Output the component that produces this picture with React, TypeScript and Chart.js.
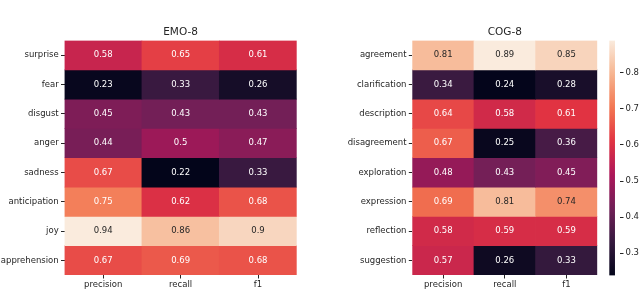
import React, { useEffect, useRef } from 'react';
import { Chart, registerables } from 'chart.js';

Chart.register(...registerables);

// ---------------- data ----------------
const METRICS = ['precision', 'recall', 'f1'];

const EMO_TITLE = 'EMO-8';
const EMO_ROWS = ['surprise', 'fear', 'disgust', 'anger', 'sadness', 'anticipation', 'joy', 'apprehension'];
const EMO_PRECISION = [0.58, 0.23, 0.45, 0.44, 0.67, 0.75, 0.94, 0.67];
const EMO_RECALL = [0.65, 0.33, 0.43, 0.5, 0.22, 0.62, 0.86, 0.69];
const EMO_F1 = [0.61, 0.26, 0.43, 0.47, 0.33, 0.68, 0.9, 0.68];
const EMO_RANGE = [0.22, 0.94];

const COG_TITLE = 'COG-8';
const COG_ROWS = ['agreement', 'clarification', 'description', 'disagreement', 'exploration', 'expression', 'reflection', 'suggestion'];
const COG_PRECISION = [0.81, 0.34, 0.64, 0.67, 0.48, 0.69, 0.58, 0.57];
const COG_RECALL = [0.89, 0.24, 0.58, 0.25, 0.43, 0.81, 0.59, 0.26];
const COG_F1 = [0.85, 0.28, 0.61, 0.36, 0.45, 0.74, 0.59, 0.33];
const COG_RANGE = [0.2385, 0.889];
const CBAR_TICKS = [0.3, 0.4, 0.5, 0.6, 0.7, 0.8];

// ---------------- style helpers ----------------
const FONT = 'DejaVu Sans';
const TEXT = '#262626';

const ROCKET: [number, number[]][] = [
  [0, [3, 5, 26]],
  [1 / 7, [53, 25, 62]],
  [2 / 7, [112, 31, 87]],
  [3 / 7, [173, 23, 89]],
  [4 / 7, [225, 51, 66]],
  [5 / 7, [243, 118, 81]],
  [6 / 7, [246, 180, 143]],
  [1, [250, 235, 221]],
];

function rocket(t: number): number[] {
  const u = Math.max(0, Math.min(1, t));
  for (let k = 1; k < ROCKET.length; k++) {
    const [t1, c1] = ROCKET[k];
    const [t0, c0] = ROCKET[k - 1];
    if (u <= t1) {
      const f = (u - t0) / (t1 - t0);
      return c0.map((c, i) => Math.round(c + (c1[i] - c) * f));
    }
  }
  return ROCKET[ROCKET.length - 1][1];
}
const rgb = (c: number[]) => `rgb(${c[0]},${c[1]},${c[2]})`;
function luminance(c: number[]) {
  const l = c.map((v) => {
    const s = v / 255;
    return s <= 0.03928 ? s / 12.92 : Math.pow((s + 0.055) / 1.055, 2.4);
  });
  return 0.2126 * l[0] + 0.7152 * l[1] + 0.0722 * l[2];
}
const norm = (v: number, r: number[]) => (v - r[0]) / (r[1] - r[0]);

// ---------------- heatmap ----------------
type HeatProps = {
  title: string;
  rows: string[];
  values: number[][];
  range: number[];
  left: number;
  width: number;
  yAxisWidth: number;
  padRight: number;
};

function Heatmap({ title, rows, values, range, left, width, yAxisWidth, padRight }: HeatProps) {
  const ref = useRef<HTMLCanvasElement>(null);
  useEffect(() => {
    const datasets = rows.map((r, i) => ({
      label: r,
      data: METRICS.map(() => [i, i + 1]),
      backgroundColor: METRICS.map((_, j) => rgb(rocket(norm(values[j][i], range)))),
      barPercentage: 1,
      categoryPercentage: 1,
      grouped: false,
      borderWidth: 0,
    }));
    const labelsPlugin = {
      id: 'cellLabels',
      afterDatasetsDraw(chart: any) {
        const ctx = chart.ctx;
        ctx.save();
        ctx.font = `8.5px "${FONT}"`;
        ctx.textAlign = 'center';
        ctx.textBaseline = 'middle';
        chart.data.datasets.forEach((_: any, i: number) => {
          chart.getDatasetMeta(i).data.forEach((el: any, j: number) => {
            const v = values[j][i];
            const col = rocket(norm(v, range));
            const { x, y, base } = el.getProps(['x', 'y', 'base'], true);
            ctx.fillStyle = luminance(col) > 0.38 ? TEXT : '#ffffff';
            ctx.fillText(String(v), x, (y + base) / 2);
          });
        });
        ctx.restore();
      },
    };
    const chart = new Chart(ref.current as HTMLCanvasElement, {
      type: 'bar',
      data: { labels: METRICS, datasets: datasets as any },
      options: {
        animation: false,
        responsive: false,
        events: [],
        layout: { padding: { left: 0, right: padRight, top: 0, bottom: 0 } },
        plugins: {
          legend: { display: false },
          tooltip: { enabled: false },
          title: {
            display: true,
            text: title,
            fullSize: false,
            color: TEXT,
            font: { family: FONT, size: 10.5, weight: 'normal' },
            padding: { top: 26, bottom: 1.9 },
          },
        },
        scales: {
          x: {
            type: 'category',
            offset: true,
            grid: { offset: false, drawOnChartArea: false, tickLength: 3.5, tickColor: TEXT },
            border: { display: false },
            ticks: { padding: 1.5, color: TEXT, font: { family: FONT, size: 8.5 }, maxRotation: 0, autoSkip: false },
            afterFit: (s: any) => {
              s.height = 15;
            },
          },
          y: {
            type: 'linear',
            min: 0,
            max: rows.length,
            reverse: true,
            grid: { drawOnChartArea: false, tickLength: 3.5, tickColor: TEXT },
            border: { display: false },
            afterBuildTicks: (s: any) => {
              s.ticks = rows.map((_, i) => ({ value: i + 0.5 }));
            },
            ticks: {
              autoSkip: false,
              padding: 2.3,
              color: TEXT,
              font: { family: FONT, size: 8.5 },
              callback: (v: any) => rows[Math.floor(Number(v))],
            },
            afterFit: (s: any) => {
              s.width = yAxisWidth;
            },
          },
        },
      } as any,
      plugins: [labelsPlugin],
    });
    return () => chart.destroy();
  }, []);
  return <canvas ref={ref} width={width} height={290} style={{ position: 'absolute', left, top: 0 }} />;
}

// ---------------- colorbar ----------------
function Colorbar({ left, width }: { left: number; width: number }) {
  const ref = useRef<HTMLCanvasElement>(null);
  useEffect(() => {
    const chart = new Chart(ref.current as HTMLCanvasElement, {
      type: 'bar',
      data: {
        labels: [''],
        datasets: [
          {
            data: [[COG_RANGE[0], COG_RANGE[1]]] as any,
            backgroundColor: (context: any) => {
              const area = context.chart.chartArea;
              if (!area) return '#000';
              const g = context.chart.ctx.createLinearGradient(0, area.bottom, 0, area.top);
              for (let k = 0; k <= 40; k++) g.addColorStop(k / 40, rgb(rocket(k / 40)));
              return g;
            },
            barPercentage: 1,
            categoryPercentage: 1,
            borderWidth: 0,
          },
        ],
      },
      options: {
        animation: false,
        responsive: false,
        events: [],
        layout: { padding: { left: 19.3, right: 0, top: 40.5, bottom: 14.5 } },
        plugins: { legend: { display: false }, tooltip: { enabled: false } },
        scales: {
          x: { display: false, offset: false },
          y: {
            type: 'linear',
            position: 'right',
            min: COG_RANGE[0],
            max: COG_RANGE[1],
            grid: { drawOnChartArea: false, tickLength: 3.5, tickColor: TEXT },
            border: { display: false },
            afterBuildTicks: (s: any) => {
              s.ticks = CBAR_TICKS.map((v) => ({ value: v }));
            },
            ticks: {
              autoSkip: false,
              padding: 2,
              color: TEXT,
              font: { family: FONT, size: 8.5 },
              callback: (v: any) => Number(v).toFixed(1),
            },
            afterFit: (s: any) => {
              s.width = 20;
            },
          },
        },
      } as any,
    });
    return () => chart.destroy();
  }, []);
  return <canvas ref={ref} width={width} height={290} style={{ position: 'absolute', left, top: 0 }} />;
}

export default function App() {
  return (
    <div style={{ position: 'fixed', left: 0, top: 0, width: 640, height: 290, background: '#fff', overflow: 'hidden' }}>
      <Heatmap
        title={EMO_TITLE}
        rows={EMO_ROWS}
        values={[EMO_PRECISION, EMO_RECALL, EMO_F1]}
        range={EMO_RANGE}
        left={0}
        width={310}
        yAxisWidth={64.5}
        padRight={13.3}
      />
      <Heatmap
        title={COG_TITLE}
        rows={COG_ROWS}
        values={[COG_PRECISION, COG_RECALL, COG_F1]}
        range={COG_RANGE}
        left={320}
        width={285}
        yAxisWidth={92.3}
        padRight={7.7}
      />
      <Colorbar left={590} width={50} />
    </div>
  );
}
